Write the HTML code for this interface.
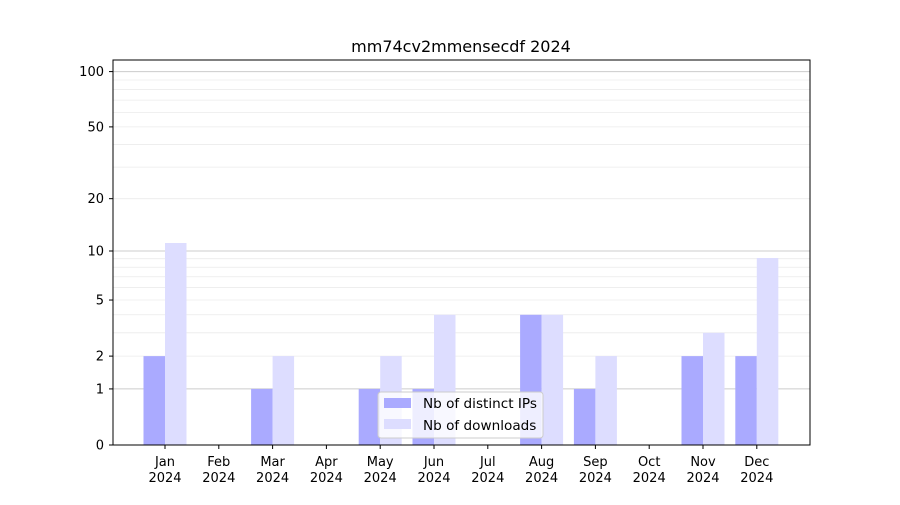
<!DOCTYPE html>
<html><head><meta charset="utf-8"><style>
html,body{margin:0;padding:0;background:#fff;}
svg text{font-family:"DejaVu Sans","Liberation Sans",sans-serif;font-size:13px;fill:#000;}
svg text.lg{font-size:13.6px;}
</style></head><body>
<svg id="c" width="900" height="500" xmlns="http://www.w3.org/2000/svg">
<rect width="900" height="500" fill="#fff"/>
<g id="grid"></g>
<g id="bars"></g>
<rect x="113" y="60" width="697" height="385" fill="none" stroke="#000" stroke-width="1"/>
<g id="ticks"></g>
<text x="461" y="52" text-anchor="middle" style="font-size:16px">mm74cv2mmensecdf 2024</text>
<g>
<rect x="378" y="392" width="165" height="46" rx="3" fill="#fff" fill-opacity="0.8" stroke="#ccc"/>
<rect x="384" y="398" width="27" height="10" fill="#aaaaff"/>
<text class="lg" x="423" y="408">Nb of distinct IPs</text>
<rect x="384" y="419" width="27" height="10" fill="#ddddff"/>
<text class="lg" x="423" y="430">Nb of downloads</text>
</g>
</svg>
<script>
var NS="http://www.w3.org/2000/svg";
function Y(v){return 445-186.3*Math.log10(1+v);}
function el(p,t,a,txt){var e=document.createElementNS(NS,t);for(var k in a)e.setAttribute(k,a[k]);if(txt!=null)e.textContent=txt;document.getElementById(p).appendChild(e);return e;}
var minor=[2,3,4,5,6,7,8,9,20,30,40,50,60,70,80,90];
minor.forEach(function(v){var y=Y(v);el("grid","line",{x1:113,x2:810,y1:y,y2:y,stroke:"#ebebeb","stroke-width":0.8});});
[1,10,100].forEach(function(v){var y=Y(v);el("grid","line",{x1:113,x2:810,y1:y,y2:y,stroke:"#cccccc","stroke-width":1});});
var ips=[2,0,1,0,1,1,0,4,1,0,2,2],dl=[11,0,2,0,2,4,0,4,2,0,3,9];
var tops={11:243,9:258};
var m=["Jan","Feb","Mar","Apr","May","Jun","Jul","Aug","Sep","Oct","Nov","Dec"];
for(var i=0;i<12;i++){var cx=165+i*53.8;
 if(ips[i]>0){var y=Y(ips[i]);el("bars","rect",{x:cx-21.5,y:y,width:21.5,height:445-y,fill:"#aaaaff"});}
 if(dl[i]>0){var y2=tops[dl[i]]||Y(dl[i]);el("bars","rect",{x:cx,y:y2,width:21.5,height:445-y2,fill:"#ddddff"});}
 el("ticks","line",{x1:cx,x2:cx,y1:445,y2:449,stroke:"#000"});
 el("ticks","text",{x:cx,y:466,"text-anchor":"middle"},m[i]);
 el("ticks","text",{x:cx,y:482,"text-anchor":"middle"},"2024");
}
[0,1,2,5,10,20,50,100].forEach(function(v){var y=Y(v);
 el("ticks","line",{x1:109,x2:113,y1:y,y2:y,stroke:"#000"});
 el("ticks","text",{x:104,y:y+4.5,"text-anchor":"end"},String(v));});
</script>
</body></html>
